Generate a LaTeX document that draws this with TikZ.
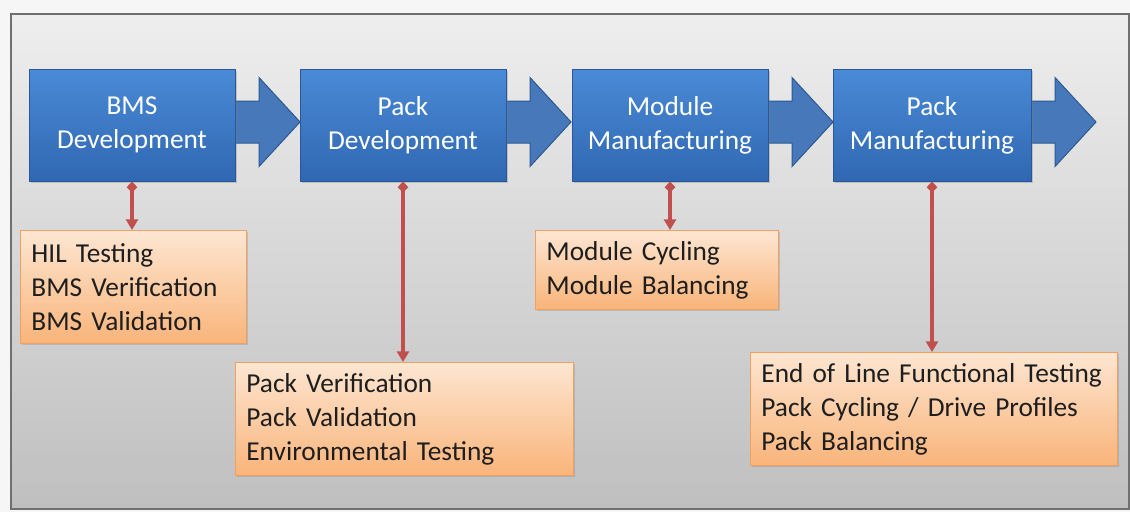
\documentclass[tikz,border=0pt]{standalone}
\usepackage{fontspec}
\setmainfont{Carlito}
\usetikzlibrary{arrows.meta,shadows}
\definecolor{outerbg}{HTML}{F6F6F6}
\definecolor{frameline}{HTML}{707070}
\definecolor{bgtop}{HTML}{EEEEEE}
\definecolor{bgbot}{HTML}{BFBFBF}
\definecolor{bluetop}{HTML}{4A8AD6}
\definecolor{bluebot}{HTML}{3067B2}
\definecolor{blueedge}{HTML}{2A5896}
\definecolor{arrowfill}{HTML}{4779BA}
\definecolor{arrowedge}{HTML}{2C5892}
\definecolor{orangetop}{HTML}{FDE6D2}
\definecolor{orangebot}{HTML}{F9B47A}
\definecolor{orangeedge}{HTML}{F0A060}
\definecolor{linkred}{HTML}{C0504D}
\definecolor{darktext}{HTML}{1E1E1E}
\begin{document}
\begin{tikzpicture}[x=0.75pt,y=-0.75pt,
  bigfont/.style={font=\fontsize{20.5}{25.5}\selectfont},
  bbox/.style={rectangle, draw=blueedge, line width=0.75pt, top color=bluetop, bottom color=bluebot,
    text=white, align=center, bigfont, inner sep=0pt,
    drop shadow={opacity=0.35, shadow xshift=1.2pt, shadow yshift=-1.5pt}},
  obox/.style={rectangle, draw=orangeedge, line width=0.6pt, top color=orangetop, bottom color=orangebot,
    text=darktext, align=left, bigfont, anchor=north west, inner xsep=8.25pt, inner ysep=0pt,
    drop shadow={opacity=0.3, shadow xshift=1.2pt, shadow yshift=-1.5pt}},
  barrow/.style={fill=arrowfill, draw=arrowedge, line width=0.75pt, line join=miter},
  link/.style={draw=linkred, line width=2.4pt, {Diamond[length=8.5pt,width=8pt]}-{Triangle[length=8pt,width=9pt]}},
  blockarrow/.pic={\path[barrow] (0,-21) -- (24,-21) -- (24,-44.5) -- (65,0) -- (24,44.5) -- (24,21) -- (0,21) -- cycle;}
]
\useasboundingbox (0,0) rectangle (1130,512);
\fill[outerbg] (0,0) rectangle (1130,512);
\shade[top color=bgtop, bottom color=bgbot] (11,14) rectangle (1129,509);
\draw[frameline, line width=1.6pt] (11,14) rectangle (1129,509);

% block arrows
\coordinate (a1) at (235,122);
\coordinate (a2) at (506,122);
\coordinate (a3) at (768,122);
\coordinate (a4) at (1031,122);
\pic at (a1) {blockarrow};
\pic at (a2) {blockarrow};
\pic at (a3) {blockarrow};
\pic at (a4) {blockarrow};

% blue stage boxes
\node[bbox, minimum width=206*0.75pt, minimum height=112*0.75pt] (bms) at (132,125) {BMS\\Development};
\node[bbox, minimum width=206*0.75pt, minimum height=112*0.75pt] (pdev) at (403,125) {Pack\\Development};
\node[bbox, minimum width=196*0.75pt, minimum height=112*0.75pt] (mman) at (670,125) {Module\\Manufacturing};
\node[bbox, minimum width=198*0.75pt, minimum height=112*0.75pt] (pman) at (932,125) {Pack\\Manufacturing};

% orange task boxes
\node[obox, text width=(226-22)*0.75pt, minimum height=113*0.75pt] (t1) at (20,230) {HIL Testing\\BMS Verification\\BMS Validation};
\node[obox, text width=(338-22)*0.75pt, minimum height=113*0.75pt] (t2) at (235,362) {Pack Verification\\Pack Validation\\Environmental Testing};
\node[obox, text width=(243-22)*0.75pt, minimum height=79*0.75pt] (t3) at (535,230) {Module Cycling\\Module Balancing};
\node[obox, text width=(367-22)*0.75pt, minimum height=113*0.75pt] (t4) at (750,352) {End of Line Functional Testing\\Pack Cycling / Drive Profiles\\Pack Balancing};

% links
\draw[link] (bms.south) -- (bms.south |- t1.north);
\draw[link] (pdev.south) -- (pdev.south |- t2.north);
\draw[link] (mman.south) -- (mman.south |- t3.north);
\draw[link] (pman.south) -- (pman.south |- t4.north);
\end{tikzpicture}
\end{document}
